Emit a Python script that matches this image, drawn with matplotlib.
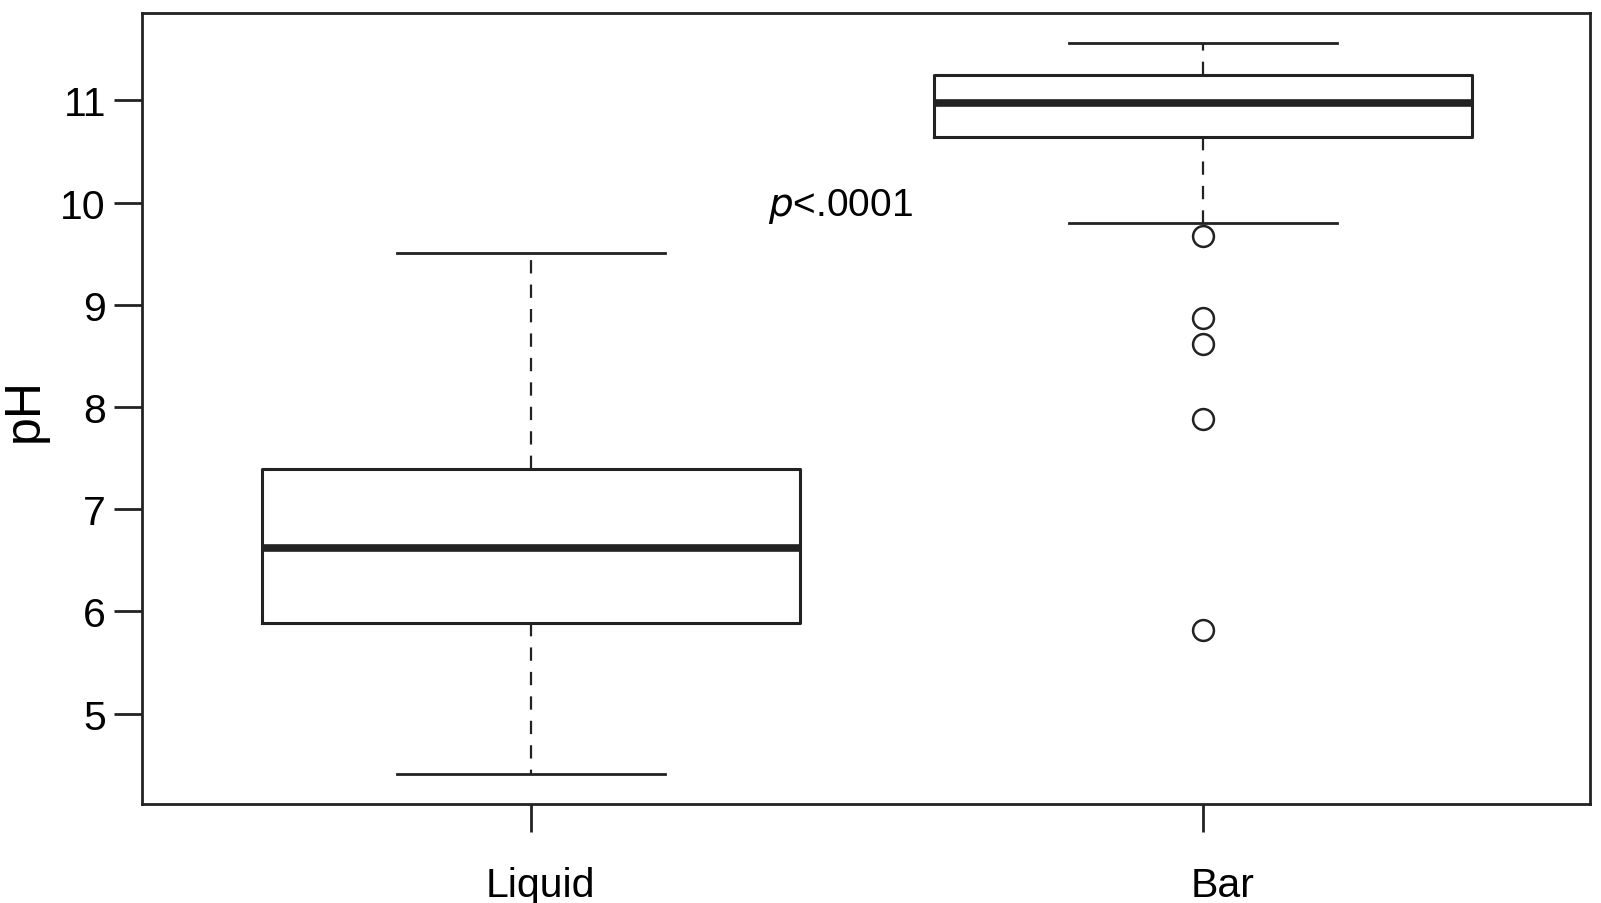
import matplotlib
matplotlib.use("Agg")
import matplotlib.pyplot as plt
import matplotlib.transforms as mtransforms

plt.rcParams['font.family'] = ['Liberation Sans', 'DejaVu Sans']

groups = ['Liquid', 'Bar']
whislo = [4.41, 9.80]
q1 = [5.89, 10.64]
med = [6.62, 10.97]
q3 = [7.39, 11.25]
whishi = [9.51, 11.56]
outliers = [[], [9.67, 8.87, 8.62, 7.88, 5.82]]
yticks = [5, 6, 7, 8, 9, 10, 11]

stats = []
for i, g in enumerate(groups):
    stats.append(dict(label=g, whislo=whislo[i], q1=q1[i], med=med[i],
                      q3=q3[i], whishi=whishi[i], fliers=outliers[i]))

ink = '#222222'
fig = plt.figure(figsize=(16.01, 9.04), dpi=100)
ax = fig.add_axes([0.0887, 0.110, 0.9044, 0.874])

ax.bxp(stats, positions=[1, 2], widths=0.8, capwidths=0.4,
       boxprops=dict(color=ink, linewidth=2.2),
       medianprops=dict(color=ink, linewidth=5.5, solid_capstyle='butt'),
       whiskerprops=dict(color=ink, linewidth=1.6, linestyle=(0, (6, 5))),
       capprops=dict(color=ink, linewidth=2.0),
       flierprops=dict(marker='o', markersize=15, markerfacecolor='none',
                       markeredgecolor=ink, markeredgewidth=1.8))

ax.set_xlim(0.421, 2.576)
ax.set_ylim(4.12, 11.85)
ax.set_yticks(yticks)
ax.set_xticks([1, 2])
ax.set_xticklabels(groups)

for s in ax.spines.values():
    s.set_color(ink)
    s.set_linewidth(2.0)

ax.tick_params(axis='both', length=20, width=2.0, color=ink, labelsize=29.5)
ax.tick_params(axis='y', pad=6)
ax.tick_params(axis='x', pad=25)
ax.set_ylabel('pH', fontsize=36, labelpad=9)

# labels in the original sit a little right of their ticks
for lab, dx in zip(ax.get_xticklabels(), [0.09, 0.20]):
    lab.set_transform(lab.get_transform() +
                      mtransforms.ScaledTranslation(dx, 0, fig.dpi_scale_trans))

ax.text(1.46, 9.97, r'$\it{p}$<.0001', fontsize=28, ha='center', va='center')

fig.savefig('out.png', dpi=100)
